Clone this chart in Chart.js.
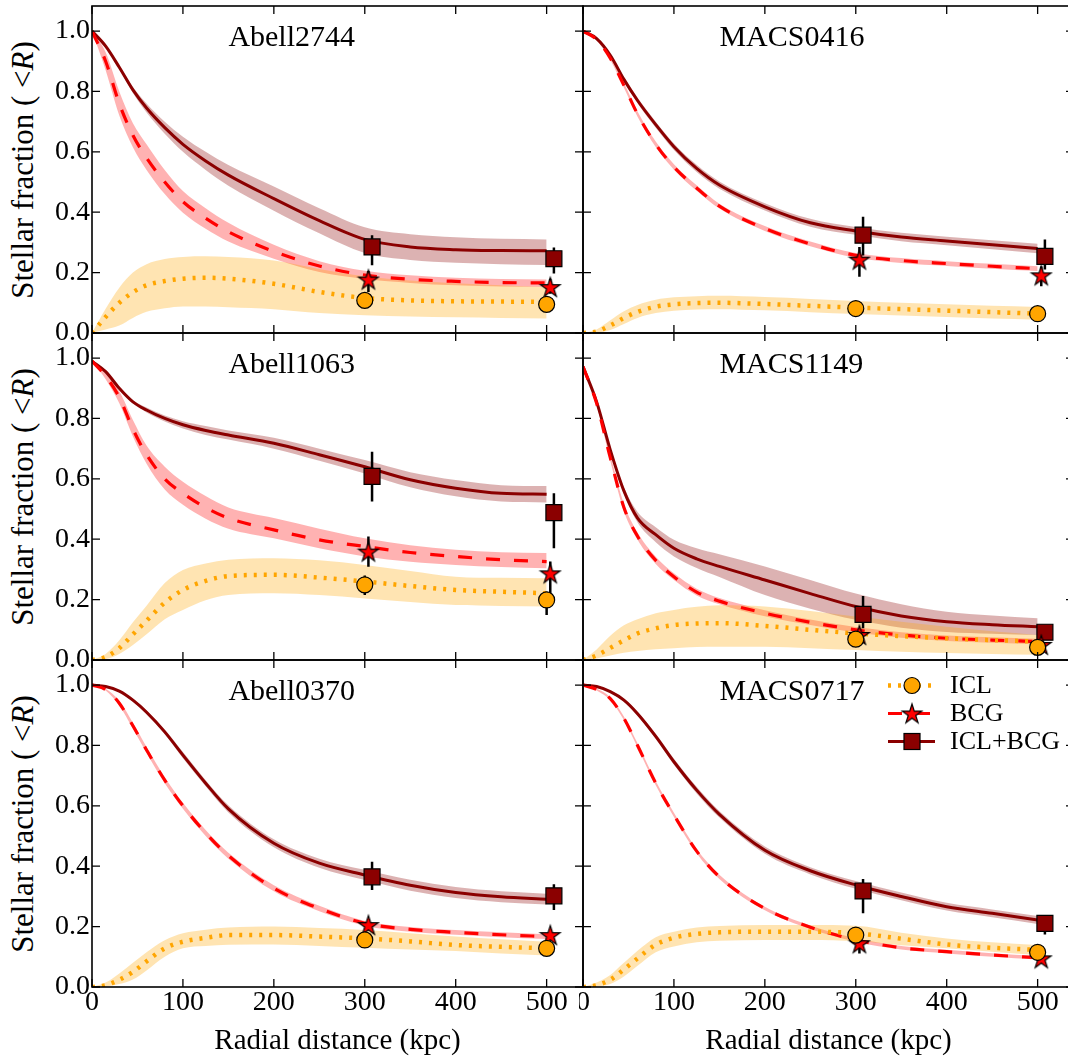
<!DOCTYPE html>
<html>
<head>
<meta charset="utf-8">
<script src="https://cdn.jsdelivr.net/npm/chart.js@4.4.1/dist/chart.umd.min.js"></script>
<style>
  html, body { margin: 0; padding: 0; background: #fff; overflow: hidden; }
  #fig { position: relative; width: 1068px; height: 1057px; overflow: hidden; background: #fff; }
  #fig canvas { position: absolute; }
  .ylab {
    position: absolute; left: 22px;
    font: 31px 'Liberation Serif', serif; line-height: 1; white-space: nowrap; color: #000;
    transform: translate(-50%, -50%) rotate(-90deg);
  }
</style>
</head>
<body>
<div id="fig">
  <div class="ylab" style="top:170px">Stellar fraction ( &lt;<i>R</i>)</div>
  <div class="ylab" style="top:497px">Stellar fraction ( &lt;<i>R</i>)</div>
  <div class="ylab" style="top:824px">Stellar fraction ( &lt;<i>R</i>)</div>
</div>
<script>
// radial grid of the model curves (kpc)
const radius = [0, 15, 30, 45, 60, 80, 100, 125, 150, 200, 250, 300, 350, 400, 450, 500];
const xTicks = [0, 100, 200, 300, 400, 500];
const yTicks = [0, 0.2, 0.4, 0.6, 0.8, 1.0];
const yTickLabels = ['0.0', '0.2', '0.4', '0.6', '0.8', '1.0'];
const clusters = ['Abell2744', 'MACS0416', 'Abell1063', 'MACS1149', 'Abell0370', 'MACS0717'];
const legendLabels = ['ICL', 'BCG', 'ICL+BCG'];

// radii of the measured points
const iclR = [300, 500];
const bcgR = [304, 504];
const totR = [308, 508];

// Abell2744
const a2744Icl   = [0, 0.053, 0.10, 0.135, 0.158, 0.172, 0.18, 0.183, 0.18, 0.163, 0.136, 0.116, 0.108, 0.105, 0.104, 0.103];
const a2744IclLo = [0, 0.012, 0.025, 0.05, 0.07, 0.082, 0.088, 0.088, 0.085, 0.079, 0.066, 0.059, 0.055, 0.052, 0.05, 0.048];
const a2744IclHi = [0, 0.08, 0.15, 0.2, 0.228, 0.245, 0.252, 0.254, 0.252, 0.24, 0.212, 0.188, 0.174, 0.165, 0.158, 0.152];
const a2744Bcg   = [1.0, 0.9, 0.76, 0.655, 0.58, 0.5, 0.435, 0.38, 0.335, 0.27, 0.222, 0.192, 0.178, 0.171, 0.167, 0.166];
const a2744BcgLo = [1.0, 0.87, 0.72, 0.615, 0.54, 0.46, 0.398, 0.345, 0.303, 0.246, 0.202, 0.179, 0.166, 0.158, 0.154, 0.152];
const a2744BcgHi = [1.0, 0.93, 0.8, 0.695, 0.625, 0.54, 0.47, 0.413, 0.365, 0.292, 0.238, 0.206, 0.191, 0.183, 0.179, 0.177];
const a2744Tot   = [1.0, 0.95, 0.88, 0.805, 0.745, 0.68, 0.625, 0.57, 0.523, 0.445, 0.372, 0.31, 0.285, 0.276, 0.273, 0.272];
const a2744TotLo = [1.0, 0.947, 0.874, 0.795, 0.73, 0.66, 0.6, 0.54, 0.488, 0.405, 0.33, 0.265, 0.242, 0.233, 0.228, 0.225];
const a2744TotHi = [1.0, 0.953, 0.886, 0.815, 0.76, 0.7, 0.65, 0.6, 0.556, 0.485, 0.413, 0.35, 0.327, 0.317, 0.312, 0.31];
const a2744IclPt = [0.108, 0.095];
const a2744IclErr = [[0.098, 0.118], [0.085, 0.105]];
const a2744BcgPt = [0.177, 0.152];
const a2744BcgErr = [[0.136, 0.205], [0.13, 0.18]];
const a2744TotPt = [0.285, 0.246];
const a2744TotErr = [[0.224, 0.324], [0.197, 0.283]];

// MACS0416
const m0416Icl   = [0, 0.005, 0.025, 0.05, 0.07, 0.087, 0.095, 0.099, 0.1, 0.096, 0.09, 0.084, 0.079, 0.074, 0.069, 0.064];
const m0416IclLo = [0, 0.001, 0.01, 0.03, 0.05, 0.066, 0.074, 0.078, 0.079, 0.075, 0.069, 0.063, 0.058, 0.053, 0.048, 0.044];
const m0416IclHi = [0, 0.012, 0.042, 0.072, 0.093, 0.11, 0.118, 0.122, 0.123, 0.119, 0.113, 0.106, 0.1, 0.095, 0.09, 0.086];
const m0416Bcg   = [1.0, 0.972, 0.91, 0.82, 0.725, 0.625, 0.55, 0.48, 0.42, 0.346, 0.295, 0.257, 0.24, 0.23, 0.221, 0.213];
const m0416BcgLo = [1.0, 0.969, 0.904, 0.812, 0.716, 0.616, 0.541, 0.471, 0.412, 0.338, 0.287, 0.249, 0.232, 0.222, 0.213, 0.205];
const m0416BcgHi = [1.0, 0.975, 0.916, 0.828, 0.734, 0.634, 0.559, 0.489, 0.428, 0.354, 0.303, 0.265, 0.248, 0.238, 0.229, 0.221];
const m0416Tot   = [1.0, 0.975, 0.92, 0.84, 0.77, 0.69, 0.617, 0.545, 0.49, 0.418, 0.365, 0.338, 0.318, 0.305, 0.292, 0.28];
const m0416TotLo = [1.0, 0.972, 0.915, 0.833, 0.761, 0.68, 0.606, 0.533, 0.478, 0.406, 0.352, 0.325, 0.304, 0.291, 0.277, 0.264];
const m0416TotHi = [1.0, 0.978, 0.925, 0.847, 0.779, 0.7, 0.628, 0.557, 0.502, 0.43, 0.378, 0.351, 0.332, 0.319, 0.307, 0.296];
const m0416IclPt = [0.081, 0.064];
const m0416IclErr = [[0.073, 0.089], [0.056, 0.072]];
const m0416BcgPt = [0.243, 0.191];
const m0416BcgErr = [[0.186, 0.285], [0.155, 0.22]];
const m0416TotPt = [0.324, 0.254];
const m0416TotErr = [[0.257, 0.385], [0.21, 0.31]];

// Abell1063
const a1063Icl   = [0, 0.01, 0.039, 0.085, 0.13, 0.19, 0.232, 0.262, 0.278, 0.282, 0.273, 0.26, 0.245, 0.232, 0.226, 0.221];
const a1063IclLo = [0, 0.003, 0.02, 0.05, 0.085, 0.135, 0.166, 0.198, 0.215, 0.221, 0.215, 0.204, 0.192, 0.182, 0.179, 0.177];
const a1063IclHi = [0, 0.02, 0.065, 0.125, 0.18, 0.255, 0.298, 0.32, 0.332, 0.337, 0.33, 0.315, 0.295, 0.276, 0.272, 0.271];
const a1063Bcg   = [0.99, 0.94, 0.87, 0.765, 0.68, 0.6, 0.552, 0.505, 0.47, 0.431, 0.398, 0.376, 0.356, 0.343, 0.332, 0.326];
const a1063BcgLo = [0.99, 0.93, 0.85, 0.74, 0.65, 0.565, 0.514, 0.468, 0.435, 0.403, 0.37, 0.343, 0.325, 0.315, 0.308, 0.304];
const a1063BcgHi = [0.99, 0.95, 0.89, 0.795, 0.71, 0.64, 0.59, 0.543, 0.505, 0.47, 0.435, 0.403, 0.38, 0.365, 0.357, 0.354];
const a1063Tot   = [0.99, 0.955, 0.9, 0.855, 0.828, 0.8, 0.779, 0.76, 0.745, 0.718, 0.68, 0.64, 0.597, 0.569, 0.552, 0.549];
const a1063TotLo = [0.99, 0.95, 0.895, 0.85, 0.82, 0.79, 0.767, 0.745, 0.73, 0.7, 0.66, 0.618, 0.572, 0.542, 0.525, 0.522];
const a1063TotHi = [0.99, 0.96, 0.905, 0.86, 0.836, 0.81, 0.791, 0.775, 0.76, 0.736, 0.7, 0.662, 0.622, 0.596, 0.579, 0.576];
const a1063IclPt = [0.249, 0.199];
const a1063IclErr = [[0.215, 0.28], [0.149, 0.226]];
const a1063BcgPt = [0.359, 0.287];
const a1063BcgErr = [[0.309, 0.409], [0.199, 0.326]];
const a1063TotPt = [0.608, 0.488];
const a1063TotErr = [[0.525, 0.69], [0.37, 0.552]];

// MACS1149
const m1149Icl   = [0, 0.015, 0.04, 0.065, 0.088, 0.105, 0.116, 0.121, 0.122, 0.113, 0.1, 0.088, 0.079, 0.072, 0.066, 0.061];
const m1149IclLo = [0, 0.005, 0.015, 0.024, 0.03, 0.036, 0.039, 0.043, 0.044, 0.044, 0.039, 0.033, 0.027, 0.023, 0.02, 0.017];
const m1149IclHi = [0, 0.035, 0.08, 0.115, 0.135, 0.155, 0.166, 0.176, 0.181, 0.177, 0.162, 0.144, 0.127, 0.11, 0.095, 0.083];
const m1149Bcg   = [0.972, 0.85, 0.67, 0.505, 0.41, 0.33, 0.276, 0.225, 0.195, 0.155, 0.125, 0.1, 0.083, 0.072, 0.066, 0.061];
const m1149BcgLo = [0.972, 0.844, 0.66, 0.493, 0.398, 0.318, 0.265, 0.214, 0.185, 0.145, 0.116, 0.091, 0.074, 0.063, 0.057, 0.052];
const m1149BcgHi = [0.972, 0.856, 0.68, 0.517, 0.422, 0.342, 0.287, 0.236, 0.205, 0.165, 0.134, 0.109, 0.092, 0.081, 0.075, 0.07];
const m1149Tot   = [0.972, 0.855, 0.696, 0.56, 0.47, 0.415, 0.37, 0.335, 0.31, 0.265, 0.22, 0.177, 0.146, 0.127, 0.117, 0.11];
const m1149TotLo = [0.972, 0.85, 0.688, 0.55, 0.455, 0.39, 0.343, 0.305, 0.275, 0.215, 0.17, 0.133, 0.107, 0.093, 0.087, 0.083];
const m1149TotHi = [0.972, 0.86, 0.705, 0.572, 0.49, 0.44, 0.398, 0.37, 0.35, 0.31, 0.265, 0.22, 0.185, 0.16, 0.147, 0.138];
const m1149IclPt = [0.069, 0.042];
const m1149IclErr = [[0.061, 0.077], [0.034, 0.05]];
const m1149BcgPt = [0.083, 0.05];
const m1149BcgErr = [[0.06, 0.105], [0.035, 0.065]];
const m1149TotPt = [0.151, 0.092];
const m1149TotErr = [[0.105, 0.212], [0.07, 0.11]];

// Abell0370
const a0370Icl   = [0, 0.006, 0.024, 0.05, 0.085, 0.128, 0.15, 0.163, 0.172, 0.172, 0.167, 0.161, 0.151, 0.139, 0.133, 0.128];
const a0370IclLo = [0, 0.002, 0.01, 0.025, 0.055, 0.1, 0.128, 0.136, 0.14, 0.141, 0.136, 0.13, 0.124, 0.119, 0.111, 0.104];
const a0370IclHi = [0, 0.015, 0.045, 0.08, 0.115, 0.155, 0.178, 0.19, 0.197, 0.2, 0.195, 0.189, 0.178, 0.167, 0.158, 0.15];
const a0370Bcg   = [1.0, 0.985, 0.94, 0.865, 0.785, 0.685, 0.6, 0.51, 0.435, 0.327, 0.26, 0.211, 0.191, 0.181, 0.173, 0.167];
const a0370BcgLo = [1.0, 0.982, 0.932, 0.855, 0.775, 0.675, 0.59, 0.5, 0.425, 0.317, 0.251, 0.203, 0.183, 0.173, 0.165, 0.159];
const a0370BcgHi = [1.0, 0.988, 0.948, 0.875, 0.795, 0.695, 0.61, 0.52, 0.445, 0.337, 0.269, 0.219, 0.199, 0.189, 0.181, 0.175];
const a0370Tot   = [1.0, 0.995, 0.98, 0.95, 0.91, 0.845, 0.768, 0.675, 0.59, 0.476, 0.41, 0.371, 0.337, 0.313, 0.299, 0.291];
const a0370TotLo = [1.0, 0.994, 0.977, 0.945, 0.904, 0.837, 0.758, 0.665, 0.578, 0.463, 0.395, 0.354, 0.319, 0.295, 0.281, 0.273];
const a0370TotHi = [1.0, 0.996, 0.983, 0.955, 0.916, 0.853, 0.778, 0.685, 0.602, 0.489, 0.425, 0.388, 0.355, 0.331, 0.317, 0.309];
const a0370IclPt = [0.156, 0.128];
const a0370IclErr = [[0.146, 0.166], [0.118, 0.138]];
const a0370BcgPt = [0.205, 0.172];
const a0370BcgErr = [[0.19, 0.225], [0.16, 0.19]];
const a0370TotPt = [0.365, 0.302];
const a0370TotErr = [[0.321, 0.415], [0.255, 0.34]];

// MACS0717
const m0717Icl   = [0, 0.006, 0.024, 0.058, 0.095, 0.14, 0.163, 0.176, 0.181, 0.183, 0.183, 0.178, 0.16, 0.141, 0.13, 0.123];
const m0717IclLo = [0, 0.002, 0.01, 0.035, 0.07, 0.115, 0.134, 0.148, 0.153, 0.156, 0.156, 0.152, 0.138, 0.128, 0.117, 0.106];
const m0717IclHi = [0, 0.015, 0.04, 0.08, 0.12, 0.165, 0.183, 0.197, 0.202, 0.205, 0.205, 0.203, 0.18, 0.161, 0.148, 0.139];
const m0717Bcg   = [1.0, 0.985, 0.955, 0.89, 0.8, 0.675, 0.57, 0.45, 0.365, 0.26, 0.198, 0.156, 0.13, 0.117, 0.106, 0.097];
const m0717BcgLo = [1.0, 0.982, 0.95, 0.884, 0.793, 0.668, 0.563, 0.443, 0.358, 0.254, 0.192, 0.15, 0.124, 0.111, 0.1, 0.091];
const m0717BcgHi = [1.0, 0.988, 0.96, 0.896, 0.807, 0.682, 0.577, 0.457, 0.372, 0.266, 0.204, 0.162, 0.136, 0.123, 0.112, 0.103];
const m0717Tot   = [1.0, 0.995, 0.978, 0.95, 0.905, 0.83, 0.746, 0.652, 0.572, 0.453, 0.385, 0.338, 0.3, 0.266, 0.244, 0.222];
const m0717TotLo = [1.0, 0.994, 0.975, 0.945, 0.898, 0.821, 0.736, 0.641, 0.561, 0.441, 0.373, 0.325, 0.287, 0.253, 0.231, 0.209];
const m0717TotHi = [1.0, 0.996, 0.981, 0.955, 0.912, 0.839, 0.756, 0.663, 0.583, 0.465, 0.397, 0.351, 0.313, 0.279, 0.257, 0.235];
const m0717IclPt = [0.172, 0.115];
const m0717IclErr = [[0.162, 0.182], [0.105, 0.125]];
const m0717BcgPt = [0.145, 0.095];
const m0717BcgErr = [[0.111, 0.172], [0.085, 0.105]];
const m0717TotPt = [0.318, 0.211];
const m0717TotErr = [[0.244, 0.358], [0.174, 0.238]];

const panels = [
  { icl: [a2744Icl, a2744IclLo, a2744IclHi, a2744IclPt, a2744IclErr], bcg: [a2744Bcg, a2744BcgLo, a2744BcgHi, a2744BcgPt, a2744BcgErr], tot: [a2744Tot, a2744TotLo, a2744TotHi, a2744TotPt, a2744TotErr] },
  { icl: [m0416Icl, m0416IclLo, m0416IclHi, m0416IclPt, m0416IclErr], bcg: [m0416Bcg, m0416BcgLo, m0416BcgHi, m0416BcgPt, m0416BcgErr], tot: [m0416Tot, m0416TotLo, m0416TotHi, m0416TotPt, m0416TotErr] },
  { icl: [a1063Icl, a1063IclLo, a1063IclHi, a1063IclPt, a1063IclErr], bcg: [a1063Bcg, a1063BcgLo, a1063BcgHi, a1063BcgPt, a1063BcgErr], tot: [a1063Tot, a1063TotLo, a1063TotHi, a1063TotPt, a1063TotErr] },
  { icl: [m1149Icl, m1149IclLo, m1149IclHi, m1149IclPt, m1149IclErr], bcg: [m1149Bcg, m1149BcgLo, m1149BcgHi, m1149BcgPt, m1149BcgErr], tot: [m1149Tot, m1149TotLo, m1149TotHi, m1149TotPt, m1149TotErr] },
  { icl: [a0370Icl, a0370IclLo, a0370IclHi, a0370IclPt, a0370IclErr], bcg: [a0370Bcg, a0370BcgLo, a0370BcgHi, a0370BcgPt, a0370BcgErr], tot: [a0370Tot, a0370TotLo, a0370TotHi, a0370TotPt, a0370TotErr] },
  { icl: [m0717Icl, m0717IclLo, m0717IclHi, m0717IclPt, m0717IclErr], bcg: [m0717Bcg, m0717BcgLo, m0717BcgHi, m0717BcgPt, m0717BcgErr], tot: [m0717Tot, m0717TotLo, m0717TotHi, m0717TotPt, m0717TotErr] }
];

const FONT = "'Liberation Serif', 'Times New Roman', serif";
const ORANGE = '#FFA500', RED = '#FF0000', DARKRED = '#8B0000';
const PANEL_W = 491, PANEL_H = 327;
const colLeft = [92, 583];
const rowTop = [6, 333, 660];

// filled five point star used as marker
const starImg = document.createElement('canvas');
starImg.width = 24; starImg.height = 24;
(function () {
  const c = starImg.getContext('2d');
  c.beginPath();
  for (let k = 0; k < 10; k++) {
    const r = k % 2 ? 3.9 : 10.3;
    const a = -Math.PI / 2 + k * Math.PI / 5;
    const px = 12 + r * Math.cos(a), py = 12.8 + r * Math.sin(a);
    k ? c.lineTo(px, py) : c.moveTo(px, py);
  }
  c.closePath();
  c.fillStyle = RED; c.fill();
  c.lineWidth = 1.2; c.strokeStyle = '#000'; c.stroke();
})();

const style = {
  icl: { color: ORANGE, band: 'rgba(255,165,0,0.3)', width: 4.5, dash: [3, 7], marker: 'circle', radius: 8, xs: iclR },
  bcg: { color: RED, band: 'rgba(255,0,0,0.3)', width: 3.2, dash: [14, 14], marker: starImg, radius: 10, xs: bcgR },
  tot: { color: DARKRED, band: 'rgba(139,0,0,0.3)', width: 3, dash: [], marker: 'rect', radius: 11.3, xs: totR }
};

const xy = (xs, ys) => xs.map((x, i) => ({ x: x, y: ys[i] }));

function buildDatasets(p) {
  const ds = [];
  ['icl', 'bcg', 'tot'].forEach(key => {
    const [line, lo, hi, pts, err] = p[key];
    const s = style[key];
    ds.push({ data: xy(radius, hi), borderWidth: 0, pointRadius: 0, fill: '+1', backgroundColor: s.band, cubicInterpolationMode: 'monotone', order: 4 });
    ds.push({ data: xy(radius, lo), borderWidth: 0, pointRadius: 0, fill: false, cubicInterpolationMode: 'monotone', order: 4 });
    ds.push({ data: xy(radius, line), borderColor: s.color, borderWidth: s.width, borderDash: s.dash, pointRadius: 0, fill: false, cubicInterpolationMode: 'monotone', order: 3 });
    ds.push({
      data: [{ x: s.xs[0], y: err[0][0] }, { x: s.xs[0], y: err[0][1] }, { x: s.xs[0], y: null },
             { x: s.xs[1], y: err[1][0] }, { x: s.xs[1], y: err[1][1] }],
      borderColor: '#000', borderWidth: 2.5, pointRadius: 0, fill: false, spanGaps: false, order: 2
    });
    ds.push({
      data: xy(s.xs, pts), showLine: false, pointStyle: s.marker, pointRadius: s.radius,
      pointBackgroundColor: s.color, pointBorderColor: '#000', pointBorderWidth: 1.2, order: 1
    });
  });
  return ds;
}

function drawLegend(ctx, a) {
  const x0 = a.left + 305, x1 = a.left + 352, xm = a.left + 329, tx = a.left + 367;
  ['icl', 'bcg', 'tot'].forEach((key, i) => {
    const s = style[key];
    const y = a.top + 25.5 + i * 28;
    ctx.save();
    ctx.strokeStyle = s.color; ctx.lineWidth = s.width; ctx.setLineDash(s.dash);
    ctx.beginPath(); ctx.moveTo(x0, y); ctx.lineTo(x1, y); ctx.stroke();
    ctx.setLineDash([]);
    ctx.lineWidth = 1.2; ctx.strokeStyle = '#000'; ctx.fillStyle = s.color;
    if (key === 'icl') {
      ctx.beginPath(); ctx.arc(xm, y, 8, 0, Math.PI * 2); ctx.fill(); ctx.stroke();
    } else if (key === 'bcg') {
      ctx.drawImage(starImg, xm - 12, y - 12);
    } else {
      ctx.fillRect(xm - 8, y - 8, 16, 16); ctx.strokeRect(xm - 8, y - 8, 16, 16);
    }
    ctx.fillStyle = '#000'; ctx.font = '26px ' + FONT;
    ctx.textAlign = 'left'; ctx.textBaseline = 'middle';
    ctx.fillText(legendLabels[i], tx, y + 1);
    ctx.restore();
  });
}

// frame, inward ticks on all sides, panel name, legend
const framePlugin = {
  id: 'frame',
  afterDraw(chart, args, opts) {
    const { ctx, chartArea: a } = chart;
    const x = chart.scales.x, y = chart.scales.y;
    ctx.save();
    ctx.strokeStyle = '#000';
    ctx.lineWidth = 1.3;
    ctx.beginPath();
    xTicks.forEach(v => {
      const px = x.getPixelForValue(v);
      ctx.moveTo(px, a.bottom); ctx.lineTo(px, a.bottom - 8);
      ctx.moveTo(px, a.top); ctx.lineTo(px, a.top + 8);
    });
    yTicks.forEach(v => {
      const py = y.getPixelForValue(v);
      ctx.moveTo(a.left, py); ctx.lineTo(a.left + 8, py);
      ctx.moveTo(a.right, py); ctx.lineTo(a.right - 8, py);
    });
    ctx.stroke();
    ctx.lineWidth = 1.6;
    ctx.strokeRect(a.left, a.top, a.right - a.left, a.bottom - a.top);
    ctx.fillStyle = '#000';
    ctx.font = '30px ' + FONT;
    ctx.textAlign = 'left';
    ctx.textBaseline = 'alphabetic';
    ctx.fillText(opts.title, x.getPixelForValue(150), y.getPixelForValue(0.95));
    if (opts.legend) drawLegend(ctx, a);
    ctx.restore();
  }
};

const fig = document.getElementById('fig');

panels.forEach((p, idx) => {
  const col = idx % 2, row = Math.floor(idx / 2);
  const isLeft = col === 0, isBottom = row === 2;
  const padL = isLeft ? 92 : 4;
  // left panels keep room below for their "0.0" label
  const padB = isBottom ? 70 : (isLeft ? 20 : 4);
  const canvas = document.createElement('canvas');
  canvas.width = padL + PANEL_W + 4;
  canvas.height = 4 + PANEL_H + padB;
  canvas.style.left = (colLeft[col] - padL) + 'px';
  canvas.style.top = (rowTop[row] - 4) + 'px';
  fig.appendChild(canvas);

  new Chart(canvas.getContext('2d'), {
    type: 'line',
    data: { datasets: buildDatasets(p) },
    options: {
      responsive: false,
      animation: false,
      events: [],
      layout: { autoPadding: false, padding: { top: 4, right: 4, left: 0, bottom: 0 } },
      plugins: {
        legend: { display: false },
        tooltip: { enabled: false },
        frame: { title: clusters[idx], legend: idx === 5 }
      },
      scales: {
        x: {
          type: 'linear', min: 0, max: 540,
          grid: { display: false, drawTicks: false, tickLength: 0 },
          border: { display: false },
          afterBuildTicks: s => { s.ticks = xTicks.map(v => ({ value: v })); },
          afterFit: s => { s.height = padB; s.paddingLeft = 0; s.paddingRight = 0; },
          ticks: {
            display: isBottom, padding: 2, autoSkip: false, maxRotation: 0, color: '#000',
            font: { family: FONT, size: 28, lineHeight: 1 },
            callback: (v, i) => String(xTicks[i])
          },
          title: {
            display: isBottom, text: 'Radial distance (kpc)', color: '#000',
            font: { family: FONT, size: 29, lineHeight: 1 },
            padding: { top: 0, bottom: 1.5 }
          }
        },
        y: {
          type: 'linear', min: 0, max: 1.083,
          grid: { display: false, drawTicks: false, tickLength: 0 },
          border: { display: false },
          afterBuildTicks: s => { s.ticks = yTicks.map(v => ({ value: v })); },
          afterFit: s => { s.width = padL; s.paddingTop = 0; s.paddingBottom = 0; },
          ticks: {
            display: isLeft, padding: 2, autoSkip: false, color: '#000',
            font: { family: FONT, size: 28, lineHeight: 1 },
            callback: (v, i) => yTickLabels[i]
          }
        }
      }
    },
    plugins: [framePlugin]
  });
});
</script>
</body>
</html>
